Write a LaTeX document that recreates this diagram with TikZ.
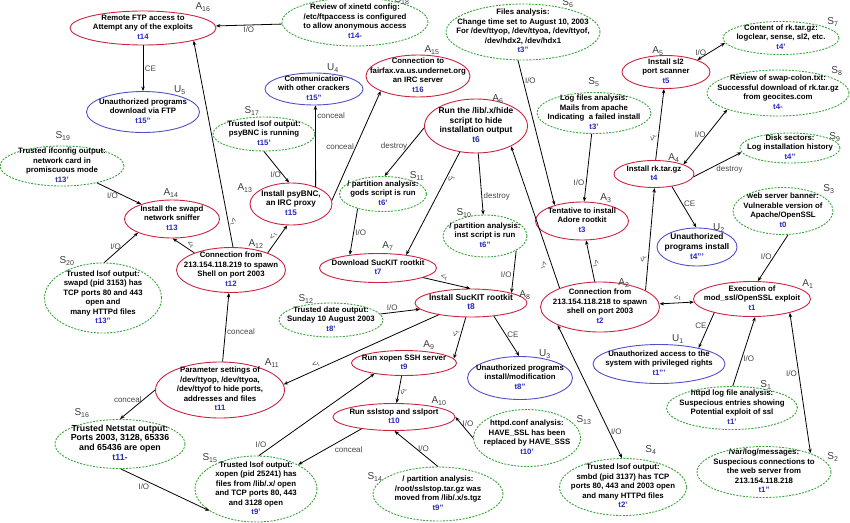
\documentclass[tikz,border=0pt]{standalone}
\usepackage{fontspec}
\setmainfont{Liberation Sans}
\usetikzlibrary{shapes.geometric}
\usetikzlibrary{arrows.meta}

\definecolor{actred}{RGB}{205,35,65}
\definecolor{unblue}{RGB}{80,80,205}
\definecolor{obsgreen}{RGB}{55,165,55}
\definecolor{timeblue}{RGB}{40,40,190}
\definecolor{taggray}{RGB}{60,60,60}
\definecolor{lblgray}{RGB}{70,70,70}

% text of an ellipse, kept out of the ellipse size
\newcommand{\etxt}[1]{\smash{\raisebox{-2pt}{\makebox[0pt]{\begin{tabular}{@{}c@{}}#1\end{tabular}}}}}
\newcommand{\tm}[1]{{\color{timeblue}#1}}
\newcommand{\tprec}{<\textsubscript{t}}

\tikzset{
  ptr/.tip={Stealth[length=4.5pt,width=3.5pt]},
  esize/.style 2 args={minimum width=#1pt,minimum height=#2pt},
  anode/.style={ellipse,draw=actred,line width=.9pt,inner sep=0pt,
    font=\fontsize{7.8}{9.5}\selectfont\bfseries},
  unode/.style={anode,draw=unblue},
  snode/.style={anode,draw=obsgreen,dash pattern=on 2pt off 1.3pt},
  link/.style={draw,line width=.8pt,-ptr},
  both/.style={ptr-ptr},
  lbl/.style={font=\fontsize{8}{9}\selectfont,text=lblgray,inner sep=1.5pt},
  tlbl/.style={lbl,sloped},
  tag/.style={font=\fontsize{10}{10}\selectfont,text=taggray,inner sep=0pt}
}

\begin{document}
\begin{tikzpicture}[x=1pt,y=-1pt]

    \useasboundingbox (0,0) rectangle (850,522);

    % attack steps
    \node[anode,esize={146}{34}] (A16) at (143,28) {\etxt{Remote FTP access to\\Attempt any of the exploits\\\tm{t14}}};
    \node[anode,esize={104}{42}] (A15) at (418,76) {\etxt{Connection to\\fairfax.va.us.undernet.org\\an IRC server\\\tm{t16}}};
    \node[anode,esize={103}{54},font=\fontsize{8.4}{9.7}\selectfont\bfseries] (A6) at (476,126) {\etxt{Run the /lib/.x/hide\\script to hide\\installation output\\\tm{t6}}};
    \node[anode,esize={88}{33}] (A5) at (666,72) {\etxt{Install sl2\\port scanner\\\tm{t5}}};
    \node[anode,esize={80}{27}] (A4) at (654,174) {\etxt{Install rk.tar.gz\\\tm{t4}}};
    \node[anode,esize={95}{38}] (A14) at (172,219) {\etxt{Install the swapd\\network sniffer\\\tm{t13}}};
    \node[anode,esize={109}{45}] (A12) at (231,270) {\etxt{Connection from\\213.154.118.219 to spawn\\Shell on port 2003\\\tm{t12}}};
    \node[anode,esize={82}{42},font=\fontsize{8.1}{9.5}\selectfont\bfseries] (A13) at (291,204) {\etxt{Install psyBNC,\\an IRC proxy\\\tm{t15}}};
    \node[anode,esize={117}{29}] (A7) at (378,268) {\etxt{Download SucKIT rootkit\\\tm{t7}}};
    \node[anode,esize={112}{28},font=\fontsize{8.4}{9.5}\selectfont\bfseries] (A8) at (471,303) {\etxt{Install SucKIT rootkit\\\tm{t8}}};
    \node[anode,esize={93}{38}] (A3) at (582,221) {\etxt{Tentative to install\\Adore rootkit\\\tm{t3}}};
    \node[anode,esize={117}{35}] (A1) at (752,299) {\etxt{Execution of\\mod\_ssl/OpenSSL exploit\\\tm{t1}}};
    \node[anode,esize={119}{50}] (A2) at (600,307) {\etxt{Connection from\\213.154.118.218 to spawn\\shell on port 2003\\\tm{t2}}};
    \node[anode,esize={129}{56}] (A11) at (220,390) {\etxt{Parameter settings of\\/dev/ttyop, /dev/ttyoa,\\/dev/ttyof to hide ports,\\addresses and files\\\tm{t11}}};
    \node[anode,esize={105}{25}] (A9) at (404,363) {\etxt{Run xopen SSH server\\\tm{t9}}};
    \node[anode,esize={122}{27}] (A10) at (394,417) {\etxt{Run sslstop and sslport\\\tm{t10}}};

    % unauthorized results
    \node[unode,esize={113}{41}] (U5) at (143,112) {\etxt{Unauthorized programs\\download via FTP\\\tm{t15''}}};
    \node[unode,esize={98}{32}] (U4) at (314,89) {\etxt{Communication\\with other crackers\\\tm{t15''}}};
    \node[unode,esize={80}{38},font=\fontsize{8.3}{10}\selectfont\bfseries] (U2) at (697,247) {\etxt{Unauthorized\\programs install\\\tm{t4'''}}};
    \node[unode,esize={132}{39}] (U1) at (659,364) {\etxt{Unauthorized access to the\\system with privileged rights\\\tm{t1'''}}};
    \node[unode,esize={105}{43}] (U3) at (520,378) {\etxt{Unauthorized programs\\install/modification\\\tm{t8''}}};

    % observations
    \node[snode,esize={146}{48}] (S18) at (355,22) {\etxt{Review of xinetd config:\\/etc/ftpaccess is configured\\to allow anonymous access\\\tm{t14-}}};
    \node[snode,esize={124}{40}] (S19) at (62,166) {\etxt{Trusted ifconfig output:\\network card in\\promiscuous mode\\\tm{t13'}}};
    \node[snode,esize={102}{34}] (S17) at (264,134) {\etxt{Trusted lsof output:\\psyBNC is running\\\tm{t15'}}};
    \node[snode,esize={154}{56}] (S6) at (523,32) {\etxt{Files analysis:\\Change time set to August 10, 2003\\For /dev/ttyop, /dev/ttyoa, /dev/ttyof,\\/dev/hdx2, /dev/hdx1\\\tm{t3''}}};
    \node[snode,esize={116}{33}] (S7) at (781,38) {\etxt{Content of rk.tar.gz:\\logclear, sense, sl2, etc.\\\tm{t4'}}};
    \node[snode,esize={142}{46}] (S8) at (778,93) {\etxt{Review of swap-colon.txt:\\Successful download of rk.tar.gz\\from geocites.com\\\tm{t4-}}};
    \node[snode,esize={114}{41}] (S5) at (594,113) {\etxt{Log files analysis:\\Mails from apache\\Indicating\ \ a failed install\\\tm{t3'}}};
    \node[snode,esize={100}{30}] (S9) at (790,148) {\etxt{Disk sectors:\\Log installation history\\\tm{t4''}}};
    \node[snode,esize={117}{70}] (S20) at (103,298) {\etxt{Trusted lsof output:\\swapd (pid 3153) has\\TCP ports 80 and 443\\open and\\many HTTPd files\\\tm{t13''}}};
    \node[snode,esize={87}{35}] (S11) at (383,194) {\etxt{/ partition analysis:\\gods script is run\\\tm{t6'}}};
    \node[snode,esize={84}{42}] (S10) at (485,236) {\etxt{/ partition analysis:\\inst script is run\\\tm{t6''}}};
    \node[snode,esize={104}{34}] (S12) at (331,320) {\etxt{Trusted date output:\\Sunday 10 August 2003\\\tm{t8'}}};
    \node[snode,esize={100}{47}] (S3) at (783,211) {\etxt{web server banner:\\Vulnerable version of\\Apache/OpenSSL\\\tm{t0}}};
    \node[snode,esize={130}{49},font=\fontsize{8.8}{9.6}\selectfont\bfseries] (S16) at (120,444) {\etxt{Trusted Netstat output:\\Ports 2003, 3128, 65336\\and 65436 are open\\\tm{t11-}}};
    \node[snode,esize={122}{66}] (S15) at (256,489) {\etxt{Trusted lsof output:\\xopen (pid 25241) has\\files from /lib/.x/ open\\and TCP ports 80, 443\\and 3128 open\\\tm{t9'}}};
    \node[snode,esize={107}{57}] (S13) at (527,438) {\etxt{httpd.conf analysis:\\HAVE\_SSL has been\\replaced by HAVE\_SSS\\\tm{t10'}}};
    \node[snode,esize={130}{54}] (S14) at (438,494) {\etxt{/ partition analysis:\\/root/sslstop.tar.gz was\\moved from /lib/.x/s.tgz\\\tm{t9''}}};
    \node[snode,esize={127}{57}] (S4) at (623,487) {\etxt{Trusted lsof output:\\smbd (pid 3137) has TCP\\ports 80, 443 and 2003 open\\and many HTTPd files\\\tm{t2'}}};
    \node[snode,esize={131}{43}] (S1) at (732,408) {\etxt{httpd log file analysis:\\Suspecious entries showing\\Potential exploit of ssl\\\tm{t1'}}};
    \node[snode,esize={134}{51}] (S2) at (764,472) {\etxt{/var/log/messages:\\Suspecious connections to\\the web server from\\213.154.118.218\\\tm{t1''}}};

    % tags
    \foreach \k/\n/\x/\y in {A/16/203/7, A/15/432/50, A/6/498/99, A/5/658/51, A/4/674/158,
        A/14/171/193, A/12/256/244, A/13/245/188, A/7/388/246, A/8/525/295, A/3/606/198,
        A/1/808/284, A/2/624/283, A/11/272/363, A/9/429/345, A/10/439/401,
        U/5/180/90, U/4/333/68, U/2/719/228, U/1/678/339, U/3/545/354,
        S/18/402/0, S/19/63/136, S/17/252/111, S/6/568/3, S/7/833/22, S/8/837/71,
        S/5/594/82, S/9/835/137, S/20/67/261, S/11/417/176, S/10/464/213, S/12/306/299,
        S/3/829/189, S/16/82/413, S/15/210/458, S/13/584/420, S/14/375/477,
        S/4/651/450, S/1/766/385, S/2/833/457}
      \node[tag] (tag\k\n) at (\x,\y) {\k\textsubscript{\n}};

    % left part
    \draw[link] (S18) -- node[lbl,below] {I/O} (A16);
    \draw[link] (A16) -- node[lbl,right] {CE} (U5);
    \draw[link] (A12.85) -- node[tlbl,pos=.12,above] {\tprec} (A16.-14);
    \draw[link] (S19) -- node[lbl,pos=.35,below] {I/O} (A14);
    \draw[link] (S20.88) -- node[lbl,pos=.55,left] {I/O} (A14.-158);
    \draw[link] (A12.155) -- node[tlbl,pos=.3,above] {\tprec} (A14.-88);
    \draw[link] (A12.25) -- node[tlbl,above] {\tprec} (A13.-100);
    \draw[link] (S17.-90) -- node[lbl,pos=.75,left] {I/O} (A13.95);
    \draw[link] (A13.35) -- node[lbl,pos=.87,right] {conceal} (U4.-85);
    \draw[link] (A13.5) -- node[lbl,pos=.49,left] {conceal} (A15.-158);
    \draw[link] (A11) -- node[lbl,pos=.43,right] {conceal} (A12);
    \draw[link] (A11.180) -- node[lbl,pos=.33,left] {conceal} (S16.90);
    \draw[link] (S16.-88) -- node[lbl,pos=.26,below=2pt] {I/O} (S15.205);

    % middle part
    \draw[link] (A6.182) -- node[lbl,pos=.38,left] {destroy} (S11.85);
    \draw[link] (S11.-150) -- node[lbl,pos=.52,right] {I/O} (A7.155);
    \draw[link] (A6.238) -- node[tlbl,pos=.24,below] {\tprec} (A7.25);
    \draw[link] (A6) -- node[lbl,pos=.7,right] {destroy} (S10);
    \draw[link] (S10.-25) -- node[lbl,pos=.57,left] {I/O} (A8.14);
    \draw[link] (A7.-12) -- node[tlbl,pos=.42,above] {\tprec} (A8.92);
    \draw[link] (S12) -- node[lbl,pos=.3,above] {I/O} (A8);
    \draw[link] (A8.-30) -- node[lbl,pos=.46,right] {CE} (U3.92);
    \draw[link] (A8.-110) -- node[tlbl,pos=.43,above] {\tprec} (A9.5);
    \draw[link] (A8.200) -- node[tlbl,pos=.78,above] {\tprec} (A11.5);
    \draw[link] (A9) -- node[tlbl,pos=.55,below] {\tprec} (A10);
    \draw[link] (S15.85) -- node[lbl,pos=.08,above left] {I/O} (A9.200);
    \draw[link] (A10.200) -- node[lbl,pos=.45,below right] {conceal} (S15.30);
    \draw[link] (S14.90) -- node[lbl,right] {I/O} (A10.-88);
    \draw[link] (S13.180) -- node[lbl,pos=.7,right] {I/O} (A10.0);

    % right part
    \draw[link] (S6.-100) -- node[lbl,pos=.14,right] {I/O} (A3.150);
    \draw[link] (S5) -- node[lbl,pos=.72,left] {I/O} (A3);
    \draw[link] (A2) -- node[tlbl,pos=.42,above] {\tprec} (A3);
    \draw[link] (A2.155) -- node[tlbl,pos=.18,below=3pt] {\tprec} (A6.-30);
    \draw[link] (A2.20) -- node[tlbl,pos=.3,above] {\tprec} (A4.-88);
    \draw[link,both] (A1) -- node[tlbl,pos=.47,above] {\tprec} (A2);
    \draw[link] (A4) -- node[tlbl,pos=.3,above] {\tprec} (A5);
    \draw[link,both] (S7.185) -- node[lbl,pos=.88,above] {I/O} (A5.21);
    \draw[link,both] (S8.198) -- node[lbl,pos=.45,left] {I/O} (A4.18);
    \draw[link] (A4.-4) -- node[lbl,pos=.75,below=5pt] {destroy} (S9.185);
    \draw[link] (A4.-35) -- node[lbl,pos=.42,right] {CE} (U2.92);
    \draw[link] (S3.-78) -- node[lbl,pos=.48,left] {I/O} (A1.72);
    \draw[link] (A1.200) -- node[lbl,pos=.38,left] {CE} (U1.22);
    \draw[link] (S1.88) -- node[lbl,pos=.39,right] {I/O} (A1.-80);
    \draw[link,both] (S2.22) -- node[lbl,pos=.57,left] {I/O} (A1.-20);
    \draw[link,both] (S4.92) -- node[lbl,pos=.2,right] {I/O} (A2.203);

\end{tikzpicture}
\end{document}
